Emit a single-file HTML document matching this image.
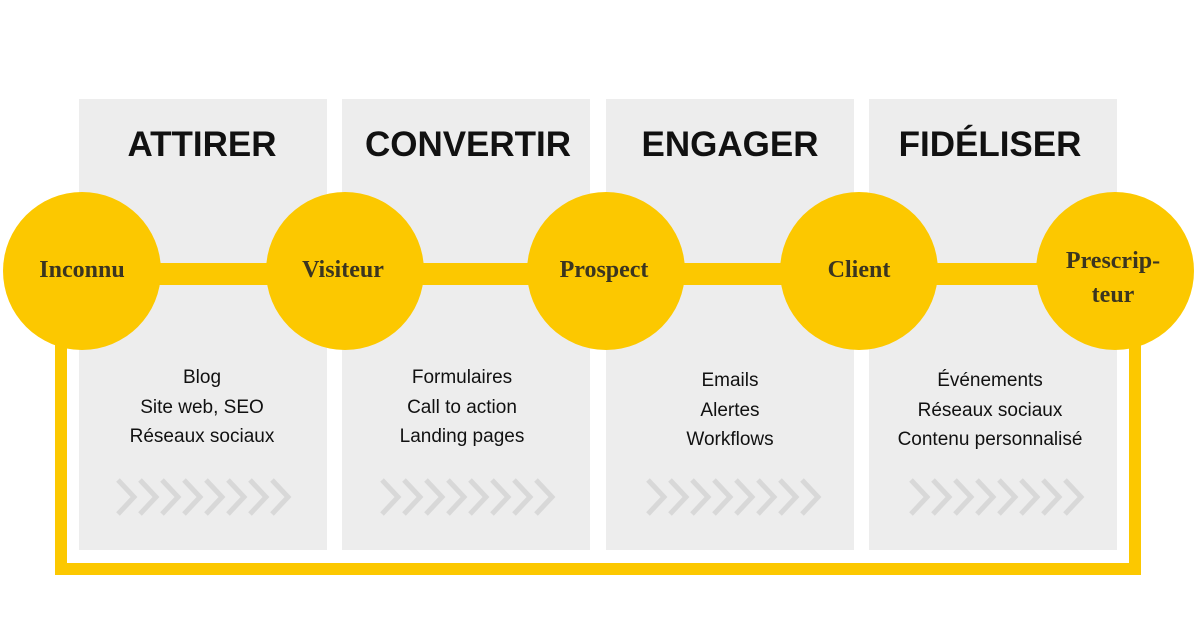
<!DOCTYPE html>
<html><head><meta charset="utf-8"><style>
html,body{margin:0;padding:0;background:#fff;}
svg{display:block}
.t{font-family:"Liberation Sans",sans-serif;font-weight:bold;font-size:35px;fill:#111;text-anchor:middle}
.c{font-family:"Liberation Serif",serif;font-weight:bold;font-size:24px;fill:#3b3520;text-anchor:middle}
.b{font-family:"Liberation Sans",sans-serif;font-size:19px;fill:#111;text-anchor:middle}
</style></head><body>
<svg width="1200" height="628" viewBox="0 0 1200 628" xmlns="http://www.w3.org/2000/svg">
<rect width="1200" height="628" fill="#fff"/>
<rect x="79" y="99" width="248" height="451" fill="#ededed"/>
<rect x="342" y="99" width="248" height="451" fill="#ededed"/>
<rect x="606" y="99" width="248" height="451" fill="#ededed"/>
<rect x="869" y="99" width="248" height="451" fill="#ededed"/>
<text class="t" x="202" y="156">ATTIRER</text>
<text class="t" x="468" y="156">CONVERTIR</text>
<text class="t" x="730" y="156">ENGAGER</text>
<text class="t" x="990" y="156">FIDÉLISER</text>
<path d="M61 270 V569 H1135 V270" fill="none" stroke="#fcc800" stroke-width="12"/>
<rect x="82" y="263" width="1035" height="22" fill="#fcc800"/>
<g fill="#fcc800">
<circle cx="82" cy="271" r="79"/>
<circle cx="345" cy="271" r="79"/>
<circle cx="606" cy="271" r="79"/>
<circle cx="859" cy="271" r="79"/>
<circle cx="1115" cy="271" r="79"/>
</g>
<text class="c" x="82" y="277">Inconnu</text>
<text class="c" x="343" y="277">Visiteur</text>
<text class="c" x="604" y="277">Prospect</text>
<text class="c" x="859" y="277">Client</text>
<text class="c" x="1113" y="268">Prescrip-</text>
<text class="c" x="1113" y="302">teur</text>
<g>
<text class="b" x="202" y="383">Blog</text>
<text class="b" x="202" y="413">Site web, SEO</text>
<text class="b" x="202" y="442">Réseaux sociaux</text>
<text class="b" x="462" y="383">Formulaires</text>
<text class="b" x="462" y="413">Call to action</text>
<text class="b" x="462" y="442">Landing pages</text>
<text class="b" x="730" y="386">Emails</text>
<text class="b" x="730" y="416">Alertes</text>
<text class="b" x="730" y="445">Workflows</text>
<text class="b" x="990" y="386">Événements</text>
<text class="b" x="990" y="416">Réseaux sociaux</text>
<text class="b" x="990" y="445">Contenu personnalisé</text>
</g>
<defs>
<g id="ch" fill="none" stroke="#d8d8d8" stroke-width="5">
<path d="M0 480 L16 497 L0 514"/><path d="M22 480 L38 497 L22 514"/><path d="M44 480 L60 497 L44 514"/><path d="M66 480 L82 497 L66 514"/>
<path d="M88 480 L104 497 L88 514"/><path d="M110 480 L126 497 L110 514"/><path d="M132 480 L148 497 L132 514"/><path d="M154 480 L170 497 L154 514"/>
</g>
</defs>
<use href="#ch" x="118"/>
<use href="#ch" x="382"/>
<use href="#ch" x="648"/>
<use href="#ch" x="911"/>
</svg>
</body></html>
